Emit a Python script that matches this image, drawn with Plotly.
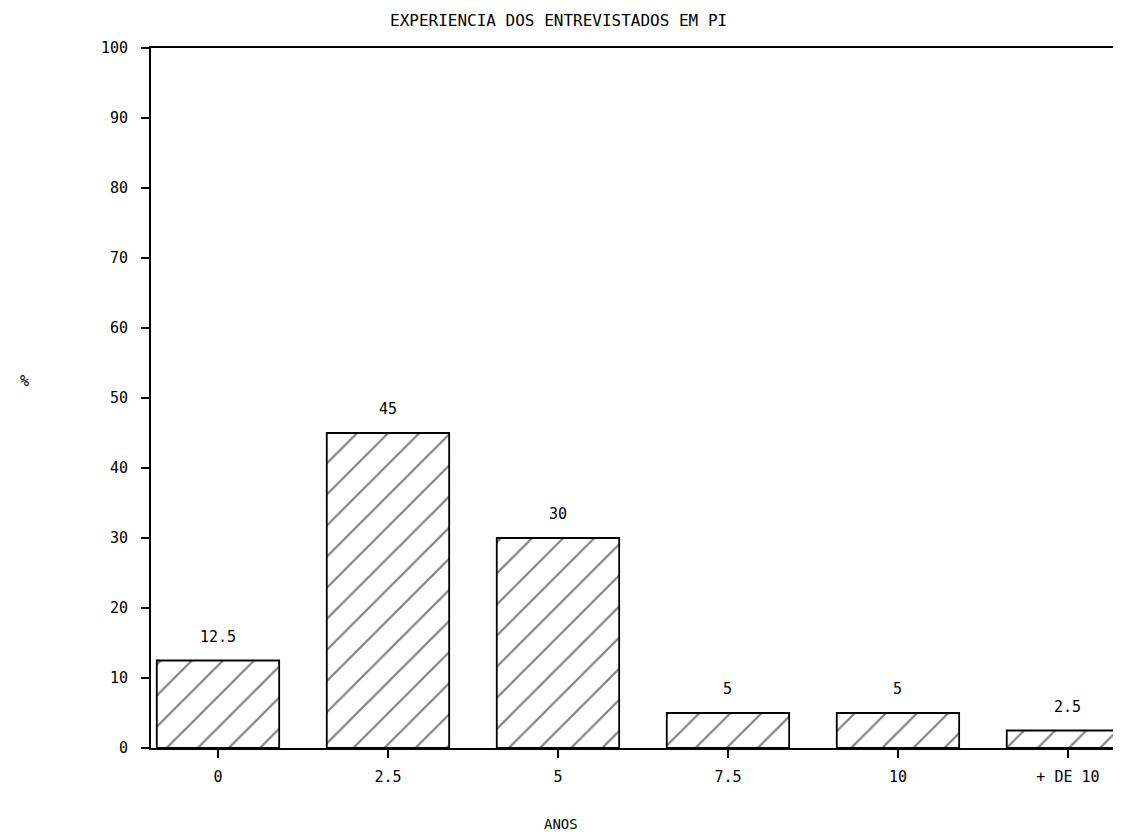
import plotly.graph_objects as go

categorias = ["0", "2.5", "5", "7.5", "10", "+ DE 10"]
percentuais = [12.5, 45, 30, 5, 5, 2.5]
rotulos = ["12.5", "45", "30", "5", "5", "2.5"]
y_ticks = [0, 10, 20, 30, 40, 50, 60, 70, 80, 90, 100]
y_tick_labels = [str(v) for v in y_ticks]

FONT = "DejaVu Sans Mono"
FS = 15

fig = go.Figure()
fig.add_trace(go.Bar(
    x=list(range(len(categorias))),
    y=percentuais,
    width=0.72,
    marker=dict(
        color="white",
        line=dict(color="black", width=1.8),
        pattern=dict(shape="/", fgcolor="black", bgcolor="white", size=22, solidity=0.1),
    ),
    cliponaxis=True,
))

for i, (v, t) in enumerate(zip(percentuais, rotulos)):
    fig.add_annotation(x=i, y=v, text=t, showarrow=False, yshift=24,
                       font=dict(family=FONT, size=FS, color="black"))

fig.add_annotation(text="EXPERIENCIA DOS ENTREVISTADOS EM PI", xref="paper", yref="paper",
                   x=0.424, y=1.0, yshift=28, showarrow=False, xanchor="center",
                   yanchor="middle",
                   font=dict(family=FONT, size=16, color="black"))
fig.add_annotation(text="ANOS", xref="paper", yref="paper", x=0.426, y=0, yshift=-76,
                   showarrow=False, xanchor="center", yanchor="middle",
                   font=dict(family=FONT, size=14, color="black"))
fig.add_annotation(text="%", xref="paper", yref="paper", x=0, xshift=-127, y=0.524,
                   showarrow=False, xanchor="center",
                   font=dict(family=FONT, size=FS, color="black"))

fig.update_layout(
    width=1105, height=823,
    paper_bgcolor="white", plot_bgcolor="white",
    margin=dict(l=143, r=0, t=40, b=83),
    showlegend=False,
    font=dict(family=FONT, size=FS, color="black"),
    xaxis=dict(
        range=[-0.394, 5.265],
        tickvals=list(range(len(categorias))),
        ticktext=categorias,
        ticks="outside", ticklen=8, tickcolor="black", tickwidth=1.5,
        ticklabelstandoff=6,
        showline=True, linecolor="black", linewidth=1.8, mirror=True,
        showgrid=False, zeroline=False,
        tickfont=dict(family=FONT, size=FS),
    ),
    yaxis=dict(
        range=[0, 100],
        tickvals=y_ticks,
        ticktext=y_tick_labels,
        ticks="outside", ticklen=8, tickcolor="black", tickwidth=1.5,
        ticklabelstandoff=10,
        showline=True, linecolor="black", linewidth=1.8,
        showgrid=False, zeroline=False,
        tickfont=dict(family=FONT, size=FS),
    ),
)

fig.write_html("out.html")
